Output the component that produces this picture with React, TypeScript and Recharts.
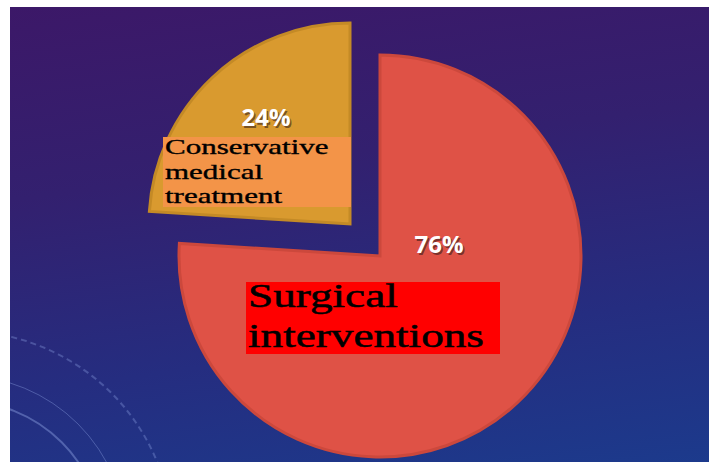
import { PieChart, Pie, Cell } from "recharts"

const categories = ["Surgical interventions", "Conservative medical treatment"]
const values = [76, 24]
const percentLabels = ["76%", "24%"]
const labelLines = [["Surgical", "interventions"], ["Conservative", "medical", "treatment"]]
const sliceColors = ["#DF5246", "#D99A2F"]
const sliceStrokes = ["#CC483C", "#C48A26"]

const data = categories.map((name, i) => ({ name, value: values[i] }))

const W = 709
const H = 462
const R = 201

function PctText({ x, y, text }: { x: number; y: number; text: string }) {
  const common = { fontFamily: "'Open Sans', sans-serif", fontWeight: 700, fontSize: 24, textAnchor: "middle" as const }
  return (
    <g>
      <text x={x + 1.5} y={y + 1.5} fill="rgba(40,20,20,0.55)" {...common}>{text}</text>
      <text x={x} y={y} fill="#ffffff" {...common}>{text}</text>
    </g>
  )
}

// red slice label: percent above, red box with stretched serif text
function renderRedLabel(props: any) {
  if (props.index !== 0) return null
  const { cx, cy } = props
  const lines = labelLines[0]
  return (
    <g>
      <PctText x={cx + 59} y={cy - 3} text={percentLabels[0]} />
      <rect x={cx - 134} y={cy + 26} width={254} height={72} fill="#FF0000" />
      {lines.map((l, i) => (
        <g key={l} transform={`translate(${cx - 132}, ${cy + 51 + i * 40}) scale(1.37, 1)`}>
          <text x={0} y={0} fontFamily="'Liberation Serif', serif" fontSize={33} fill="#000" stroke="#000" strokeWidth={0.5}>{l}</text>
        </g>
      ))}
    </g>
  )
}

function renderOrangeLabel(props: any) {
  if (props.index !== 1) return null
  const { cx, cy } = props
  const lines = labelLines[1]
  return (
    <g>
      <PctText x={cx - 84} y={cy - 98} text={percentLabels[1]} />
      <rect x={cx - 187} y={cy - 87} width={188} height={70} fill="#F39448" />
      {lines.map((l, i) => (
        <g key={l} transform={`translate(${cx - 185}, ${cy - 70 + i * 24.5}) scale(1.55, 1)`}>
          <text x={0} y={0} fontFamily="'Liberation Serif', serif" fontSize={20} fill="#000" stroke="#000" strokeWidth={0.35}>{l}</text>
        </g>
      ))}
    </g>
  )
}

export default function App() {
  return (
    <div style={{ position: "absolute", left: 0, top: 0, width: W, height: H, background: "#fff", overflow: "hidden" }}>
      <div
        style={{
          position: "absolute",
          left: 10,
          top: 7,
          width: W - 10,
          height: H - 7,
          overflow: "hidden",
          background: "linear-gradient(172deg, #3c1868 0%, #33206f 35%, #252d80 70%, #1c3a8c 100%)",
        }}
      >
        {/* decorative rings bottom-left */}
        <div style={{ position: "absolute", left: -50 - 140, top: 533 - 140, width: 280, height: 280, borderRadius: "50%", border: "2px solid rgba(140,160,225,0.45)" }} />
        <div style={{ position: "absolute", left: -50 - 165, top: 533 - 165, width: 330, height: 330, borderRadius: "50%", border: "1.5px solid rgba(140,160,225,0.4)" }} />
        <div style={{ position: "absolute", left: -50 - 210, top: 533 - 210, width: 420, height: 420, borderRadius: "50%", border: "2px dashed rgba(140,160,225,0.35)" }} />
      </div>
      <div style={{ position: "absolute", left: 0, top: 0 }}>
        <PieChart width={W} height={H} margin={{ top: 0, right: 0, bottom: 0, left: 0 }}>
          <Pie
            data={data}
            dataKey="value"
            nameKey="name"
            cx={380}
            cy={256}
            outerRadius={R}
            startAngle={90}
            endAngle={-270}
            labelLine={false}
            label={renderRedLabel}
            isAnimationActive={false}
          >
            <Cell fill={sliceColors[0]} stroke={sliceStrokes[0]} strokeWidth={3} />
            <Cell fill="transparent" stroke="none" />
          </Pie>
          <Pie
            data={data}
            dataKey="value"
            nameKey="name"
            cx={350}
            cy={224}
            outerRadius={R}
            startAngle={90}
            endAngle={-270}
            labelLine={false}
            label={renderOrangeLabel}
            isAnimationActive={false}
          >
            <Cell fill="transparent" stroke="none" />
            <Cell fill={sliceColors[1]} stroke={sliceStrokes[1]} strokeWidth={3} />
          </Pie>
        </PieChart>
      </div>
    </div>
  )
}
